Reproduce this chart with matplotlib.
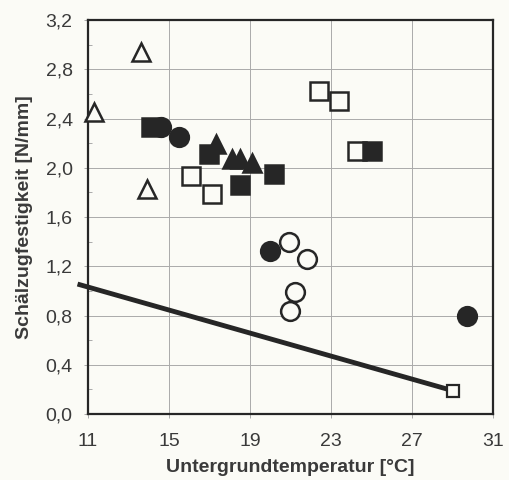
import numpy as np
import matplotlib
matplotlib.use("Agg")
import matplotlib.pyplot as plt
from matplotlib.ticker import MultipleLocator, FuncFormatter

plt.rcParams['font.family'] = ['Liberation Sans', 'DejaVu Sans']

# data
open_tri_x = [11.3, 13.6, 13.9]
open_tri_y = [2.45, 2.94, 1.83]
fill_tri_x = [17.3, 18.1, 18.5, 19.1]
fill_tri_y = [2.19, 2.07, 2.07, 2.04]
open_sq_x = [16.1, 17.1, 22.4, 23.4, 24.3]
open_sq_y = [1.93, 1.79, 2.62, 2.54, 2.14]
fill_sq_x = [14.1, 17.0, 18.5, 20.2, 25.0]
fill_sq_y = [2.33, 2.11, 1.86, 1.95, 2.14]
open_circ_x = [20.95, 21.8, 21.2, 21.0]
open_circ_y = [1.40, 1.26, 0.99, 0.84]
fill_circ_x = [14.6, 15.5, 20.0, 29.7]
fill_circ_y = [2.33, 2.25, 1.32, 0.80]
line_x = [10.6, 29.0]
line_y = [1.05, 0.19]
xticks = [11, 15, 19, 23, 27, 31]

bg = "#fbfbf6"
dark = "#262626"
txt = "#3a3a3a"

fig = plt.figure(figsize=(5.1, 4.8), dpi=100, facecolor=bg)
ax = fig.add_axes([0.1725, 0.1375, 0.7942, 0.8208], facecolor=bg)

ax.set_xlim(11, 31)
ax.set_ylim(0, 3.2)
ax.set_xticks(xticks)
ax.yaxis.set_major_locator(MultipleLocator(0.4))
ax.yaxis.set_minor_locator(MultipleLocator(0.2))
ax.yaxis.set_major_formatter(FuncFormatter(lambda v, p: f"{v:.1f}".replace(".", ",")))
ax.grid(True, which="major", color="#aaaaaa", lw=0.7)
ax.set_axisbelow(True)

for s in ax.spines.values():
    s.set_color(dark)
    s.set_linewidth(1.6)

ax.tick_params(axis="both", which="major", length=3, width=0.7, color="#aaaaaa",
               labelsize=14, labelcolor=txt)
ax.tick_params(axis="x", which="major", pad=11)
ax.tick_params(axis="y", which="major", pad=8)
ax.tick_params(axis="y", which="minor", direction="in", length=3, width=0.7, color="#aaaaaa")

# regression line with end marker
ax.plot(line_x, line_y, color=dark, lw=3.5, clip_on=False, zorder=3)
ax.plot(line_x[-1:], line_y[-1:], "s", ms=9, mfc=bg, mec=dark, mew=1.6, zorder=4)

kw = dict(ls="none", ms=13.5, mew=1.8, mec=dark, clip_on=False, zorder=5)
ax.plot(open_tri_x, open_tri_y, "^", mfc=bg, **kw)
ax.plot(open_sq_x, open_sq_y, "s", mfc=bg, **kw)
ax.plot(open_circ_x, open_circ_y, "o", mfc=bg, **kw)
ax.plot(fill_tri_x, fill_tri_y, "^", mfc=dark, **kw)
ax.plot(fill_sq_x, fill_sq_y, "s", mfc=dark, **kw)
ax.plot(fill_circ_x, fill_circ_y, "o", mfc=dark, **kw)

ax.set_xlabel("Untergrundtemperatur [°C]", fontsize=14, fontweight="bold",
              color=txt, labelpad=6)
ax.set_ylabel("Schälzugfestigkeit [N/mm]", fontsize=14, fontweight="bold",
              color=txt, labelpad=9)

fig.savefig("out.png", dpi=100, facecolor=bg)
